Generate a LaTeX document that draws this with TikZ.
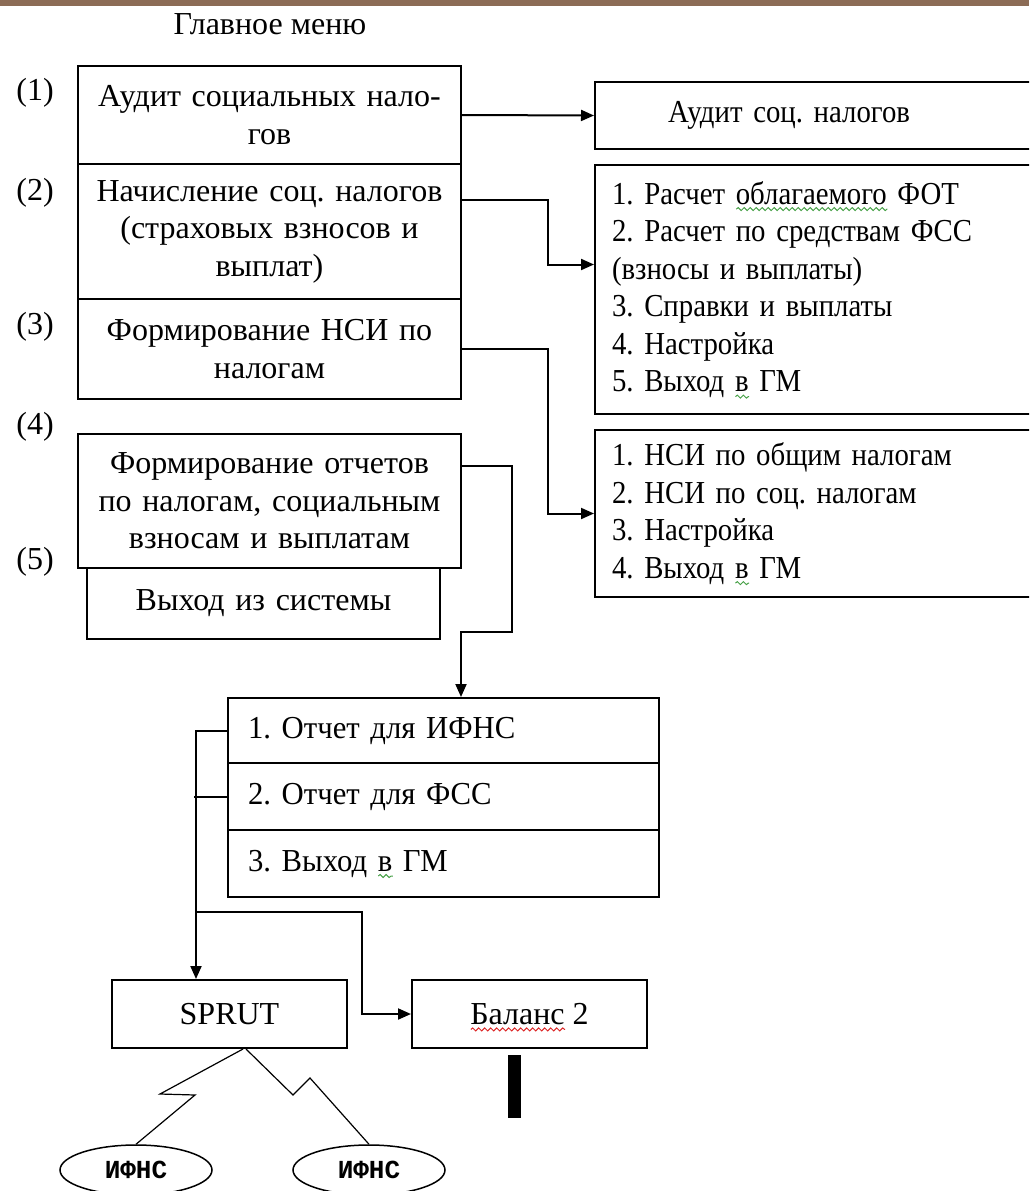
\documentclass[tikz,border=0pt]{standalone}
\usepackage{fontspec}
\setmainfont{Liberation Serif}
\newfontfamily\ifnsfont{Liberation Mono}
\usetikzlibrary{arrows.meta,shapes.geometric,decorations.pathmorphing}
\definecolor{topbar}{RGB}{140,108,86}
\definecolor{spellgreen}{RGB}{70,160,70}
\definecolor{spellred}{RGB}{220,40,40}
\frenchspacing
\newsavebox\spellbox
\newcommand\spell[2]{\sbox\spellbox{#2}\makebox[0pt][l]{\raisebox{-7pt}[0pt][0pt]{\tikz\draw[#1,line width=1pt,decorate,decoration={snake,amplitude=1.5pt,segment length=6pt}] (0pt,0pt) -- (\wd\spellbox,0pt);}}\usebox\spellbox}

\begin{document}
\begin{tikzpicture}[x=1pt,y=-1pt,font=\fontsize{32}{37.5}\selectfont,>={Triangle[length=13pt,width=11pt]}]
    \tikzset{
        menubox/.style={
            draw,line width=2pt,anchor=north west,
            minimum width=383pt,text width=371pt,inner xsep=6pt,align=center
        },
        subbox/.style={
            draw,line width=2pt,anchor=north west,
            font=\fontsize{32}{37.5}\selectfont\addfontfeatures{FakeStretch=0.9},
            minimum width=440pt,text width=406pt,inner xsep=17pt,align=left
        },
        listbox/.style={
            draw,line width=2pt,anchor=north west,
            font=\fontsize{32}{37.5}\selectfont\addfontfeatures{FakeStretch=0.96},
            minimum width=431pt,text width=391pt,inner xsep=20pt,align=left
        },
        destbox/.style={
            draw,line width=2pt,anchor=north west,
            minimum width=235pt,minimum height=68pt
        },
        ifnsnode/.style={
            draw,ellipse,line width=1.5pt,minimum width=152pt,minimum height=50pt,
            inner sep=0pt,font=\ifnsfont\bfseries\fontsize{26}{30}\selectfont
        },
        link/.style={->,line width=2pt},
        wire/.style={line width=2pt},
        bolt/.style={line width=1.2pt}
    }

    \useasboundingbox (0,0) rectangle (1029,1191);
    \clip (0,0) rectangle (1029,1191);
    \fill[topbar] (0,0) rectangle (1029,6);

    \node (title) at (270,24) {Главное меню};

    % главное меню
    \node[menubox,minimum height=98pt] (m1) at (77,65)
        {Аудит социальных нало-\\гов};
    \node[menubox,minimum height=135pt] (m2) at (77,163)
        {Начисление соц. налогов\\(страховых взносов и\\выплат)};
    \node[menubox,minimum height=100pt] (m3) at (77,298)
        {Формирование НСИ по\\налогам};
    \node[menubox,minimum height=134pt] (m4) at (77,433)
        {Формирование отчетов\\по налогам, социальным\\взносам и выплатам};
    \node[menubox,minimum width=353pt,text width=341pt,minimum height=71pt] (m5) at (86,567)
        {Выход из системы};
    \foreach \n/\y in {1/93,2/193,3/327,4/427,5/562}
        \node (n\n) at (35,\y) {(\n)};

    % подменю
    \node[subbox,minimum height=67pt,inner xsep=73pt,text width=294pt] (r1) at (594,81)
        {Аудит соц. налогов};
    \node[subbox,minimum height=249pt] (r2) at (594,164)
        {1. Расчет \spell{spellgreen}{облагаемого} ФОТ\\
         2. Расчет по средствам ФСС\\
         (взносы и выплаты)\\
         3. Справки и выплаты\\
         4. Настройка\\
         5. Выход \spell{spellgreen}{в} ГМ};
    \node[subbox,minimum height=167pt] (r3) at (594,429)
        {1. НСИ по общим налогам\\
         2. НСИ по соц. налогам\\
         3. Настройка\\
         4. Выход \spell{spellgreen}{в} ГМ};

    \draw[link] (m1.east) -- (r1.west);
    \draw[link] ([yshift=32pt]m2.east) -| ([xshift=-46pt,yshift=25pt]r2.west)
        -- ([yshift=25pt]r2.west);
    \draw[link] (m3.east) -| ([xshift=-46pt]r3.west) -- (r3.west);

    % отчеты
    \node[listbox,minimum height=65pt] (l1) at (227,697) {1. Отчет для ИФНС};
    \node[listbox,minimum height=67pt] (l2) at (227,762) {2. Отчет для ФСС};
    \node[listbox,minimum height=67pt] (l3) at (227,829) {3. Выход \spell{spellgreen}{в} ГМ};

    \coordinate (jog) at (512,632);
    \draw[link] ([yshift=35pt]m4.east) -| (jog) -| ([xshift=17.5pt]l1.north);

    \node[destbox] (sprut) at (111,979) {SPRUT};
    \node[destbox] (bal) at (411,979) {\spell{spellred}{Баланс} 2};
    \node[fill,minimum width=13pt,minimum height=63pt,inner sep=0pt] (bar) at (514.5,1086.5) {};

    \draw[link] (l1.west) -| ([xshift=-33.5pt]sprut.north);
    \draw[wire] (l2.west) -- ++(-33,0);
    \coordinate (fork) at (195,912);
    \draw[link] (fork) -| ([xshift=-49pt]bal.west) -- (bal.west);

    \node[ifnsnode] (ifns1) at (136,1170) {ИФНС};
    \node[ifnsnode] (ifns2) at (369,1170) {ИФНС};
    \draw[bolt] ([xshift=13.5pt]sprut.south) -- (160,1094) -- (195,1095) -- (ifns1.north);
    \draw[bolt] ([xshift=16.5pt]sprut.south) -- (293,1095) -- (310,1078) -- (ifns2.north);
\end{tikzpicture}
\end{document}
